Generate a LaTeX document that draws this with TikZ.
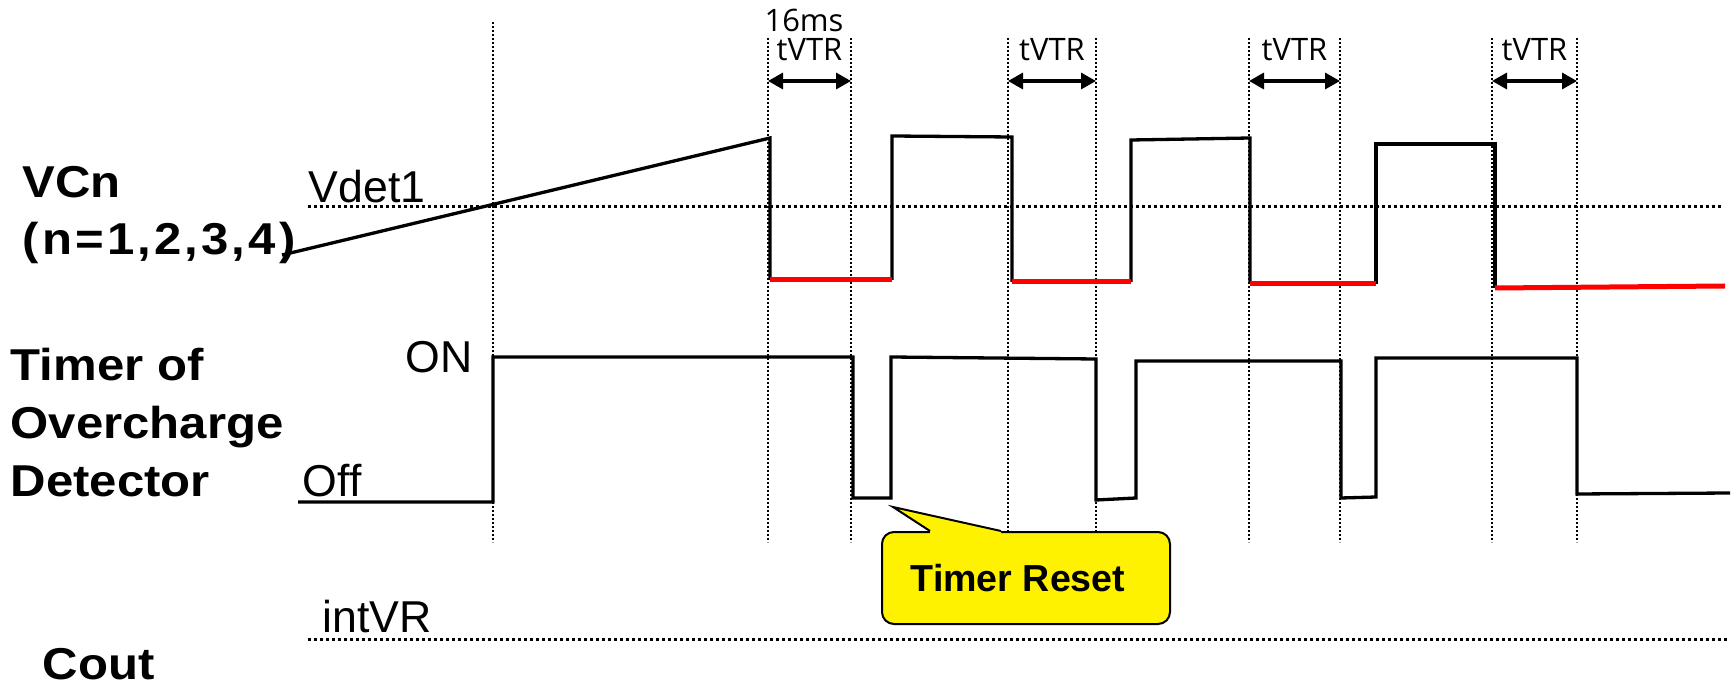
\documentclass[tikz,border=0pt]{standalone}
\usepackage{fontspec}
\setmainfont{Liberation Sans}
\newfontfamily\lblfont{Liberation Sans}[FakeStretch=1.1]
\newfontfamily\spanfont{Open Sans}
\usetikzlibrary{positioning, arrows.meta}

\begin{document}
\begin{tikzpicture}[
  x=0.1mm, y=-0.1mm,
  sig/.style={line width=0.33mm},
  lowred/.style={line width=0.5mm, red},
  guide/.style={line width=0.2mm, dash pattern=on 0.2mm off 0.2mm},
  thresh/.style={line width=0.3mm, dash pattern=on 0.3mm off 0.3mm},
  signame/.style={font={\lblfont\bfseries\fontsize{12.7}{16.5}\selectfont}, anchor=base west, inner sep=0pt, align=left},
  lvl/.style={font={\fontsize{12.7}{15}\selectfont}, anchor=base west, inner sep=0pt},
  spanlabel/.style={font={\spanfont\fontsize{8.8}{10}\selectfont}, anchor=base, inner sep=0pt},
  span/.style={{Triangle[length=1.5mm, width=1.6mm]}-{Triangle[length=1.5mm, width=1.6mm]}, line width=0.33mm},
  resetbox/.style={draw, line width=0.2mm, fill=yellow, rounded corners=1.2mm, minimum width=28.8mm, minimum height=9.2mm, font={\bfseries\fontsize{10.7}{12}\selectfont}}
]
\useasboundingbox (0,0) rectangle (1736,684);
% --- guides ---
\draw[guide] (493,22) -- (493,542);
\foreach \a/\b [count=\i] in {768/851, 1008/1096, 1249/1340, 1492/1577} {
  \draw[guide] (\a,38) -- (\a,542);
  \draw[guide] (\b,38) -- (\b,542);
  \draw[span] (\a,81) -- (\b,81);
  \node[spanlabel] (tvtr\i) at ({(\a+\b)/2},61) {tVTR};
}
\node[spanlabel] (ms16) at (804,32) {16ms};
% --- levels ---
\draw[thresh] (308,207) -- (1722,207);
\draw[thresh] (308,639) -- (1729,639);
\node[lvl] (vdet) at (308,203) {Vdet1};
\node[lvl] (onlbl) at (405,373) {ON};
\node[lvl] (offlbl) at (302,497) {Off};
\node[lvl] (intvr) at (322,632) {intVR};
% --- signal names (base = last line) ---
\node[signame] (vcn) at (22,255) {VCn\\{\addfontfeature{LetterSpace=7}(n=1,2,3,4)}};
\node[signame] (timer) at (10,496) {Timer of\\Overcharge\\Detector};
\node[signame] (cout) at (42,679) {Cout};
% --- VCn ---
\draw[sig] (282,255) -- (770,138) -- (770,280);
\draw[sig] (892,280) -- (892,136) -- (1012,137) -- (1012,282);
\draw[sig] (1131,282) -- (1131,140) -- (1250,138) -- (1250,284);
\draw[sig] (1376,284) -- (1376,144) -- (1495,144) -- (1495,288);
\draw[lowred] (770,280) -- (892,280);
\draw[lowred] (1012,282) -- (1131,282);
\draw[lowred] (1250,284) -- (1376,284);
\draw[lowred] (1495,288) -- (1725,286);
% --- timer ---
\draw[sig] (298,502) -- (493,502) -- (493,357) -- (853,357) -- (853,498) -- (891,498) -- (891,357)
  -- (1096,359) -- (1096,500) -- (1136,498) -- (1136,361) -- (1341,361) -- (1341,498) -- (1376,497)
  -- (1376,358) -- (1577,358) -- (1577,494) -- (1730,493);
% --- callout ---
\node[resetbox] (reset) at (1026,578) {Timer Reset\hspace*{1.6mm}};
\coordinate (pa) at ([xshift=4.9mm]reset.north west);
\coordinate (pb) at ([xshift=12mm]reset.north west);
\coordinate (tip) at (893,507);
\fill[yellow] (pa) -- (tip) -- (pb) -- ([yshift=-0.4mm]pb) -- ([yshift=-0.4mm]pa) -- cycle;
\draw[line width=0.2mm] (pa) -- (tip) -- (pb);
\end{tikzpicture}
\end{document}
